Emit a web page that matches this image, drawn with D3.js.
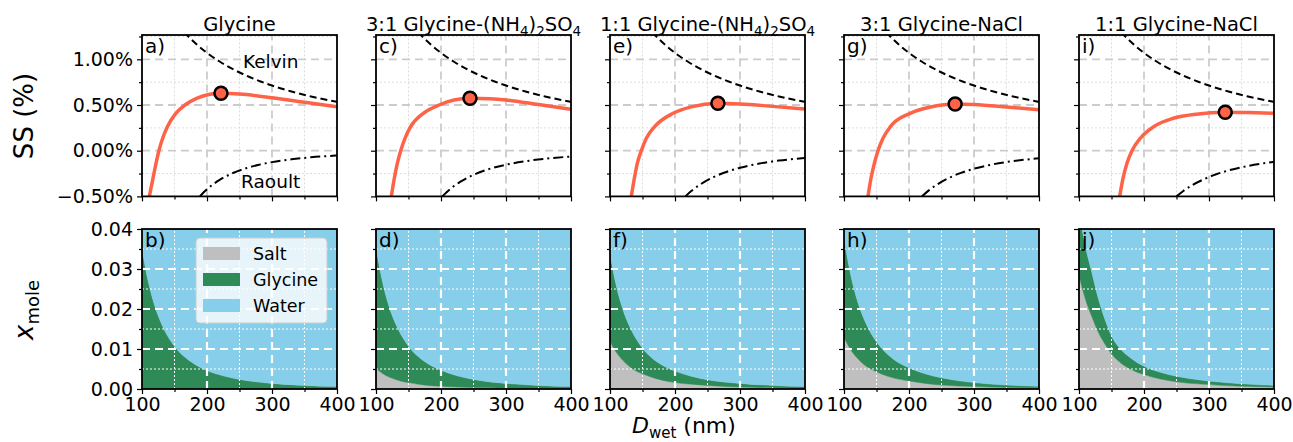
<!DOCTYPE html>
<html>
<head>
<meta charset="utf-8">
<script src="https://cdn.jsdelivr.net/npm/d3@7"></script>
<style>
  body { margin: 0; background: #fff; }
  text { font-family: "DejaVu Sans", sans-serif; fill: #000; }
</style>
</head>
<body>
<svg id="chart" width="1293" height="442"></svg>
<script>
// panel titles (subscripts marked with _) and panel letters
var titles = ["Glycine", "3:1 Glycine-(NH_4)_2SO_4", "1:1 Glycine-(NH_4)_2SO_4", "3:1 Glycine-NaCl", "1:1 Glycine-NaCl"];
var topLetters = ["a)", "c)", "e)", "g)", "i)"];
var botLetters = ["b)", "d)", "f)", "h)", "j)"];

// tick values
var xMajorTicks = [100, 200, 300, 400];
var xMinorTicks = [150, 250, 350];
var ssMajorTicks = [-0.5, 0, 0.5, 1.0];
var ssMinorTicks = [-0.25, 0.25, 0.75, 1.25];
var xmMajorTicks = [0, 0.01, 0.02, 0.03, 0.04];
var xmMinorTicks = [0.005, 0.015, 0.025, 0.035];

// Kohler curves (D in nm, SS in %)
var kohlerD = [
  [111.3, 116.4, 121.5, 126, 131.8, 139, 152, 166, 184, 204.6, 221.5, 250, 300, 350, 400],
  [123.6, 127.7, 132.8, 138, 144.6, 153.3, 172.8, 197, 220, 244.6, 275, 300, 350, 400],
  [132.8, 137, 142, 148.2, 155.9, 168.7, 197, 225, 266, 300, 350, 400],
  [136.9, 141, 146.7, 152.3, 160, 171.3, 202, 235, 271, 300, 350, 400],
  [162.6, 167.2, 173.8, 181.5, 194.3, 215, 245, 280, 325, 360, 400]
];
var kohlerSS = [
  [-0.50, -0.32, -0.14, 0, 0.136, 0.263, 0.409, 0.50, 0.573, 0.617, 0.628, 0.62, 0.58, 0.53, 0.48],
  [-0.50, -0.32, -0.138, 0, 0.136, 0.263, 0.409, 0.50, 0.555, 0.573, 0.568, 0.555, 0.505, 0.453],
  [-0.50, -0.32, -0.138, 0, 0.136, 0.263, 0.409, 0.48, 0.519, 0.512, 0.485, 0.455],
  [-0.50, -0.32, -0.138, 0, 0.136, 0.263, 0.409, 0.48, 0.511, 0.505, 0.478, 0.447],
  [-0.50, -0.32, -0.138, 0, 0.136, 0.263, 0.355, 0.40, 0.42, 0.417, 0.409]
];
var criticalD = [221.5, 244.6, 266, 271, 325];
var criticalSS = [0.628, 0.573, 0.519, 0.511, 0.42];

// Kelvin term (same for every panel)
var kelvinD = [165, 175, 185, 200, 220, 240, 260, 280, 300, 330, 360, 400];
var kelvinSS = [1.297, 1.223, 1.157, 1.07, 0.973, 0.892, 0.823, 0.764, 0.713, 0.648, 0.594, 0.535];

// Raoult term
var raoultD = [
  [189, 200, 220, 240, 260, 280, 300, 330, 360, 400],
  [202, 215, 230, 250, 270, 300, 330, 360, 400],
  [216, 225, 240, 260, 280, 300, 330, 360, 400],
  [220, 230, 245, 260, 280, 300, 330, 360, 400],
  [250, 260, 275, 290, 310, 330, 360, 400]
];
var raoultSS = [
  [-0.50, -0.422, -0.317, -0.244, -0.192, -0.154, -0.125, -0.094, -0.072, -0.053],
  [-0.50, -0.415, -0.339, -0.264, -0.209, -0.153, -0.115, -0.088, -0.064],
  [-0.50, -0.442, -0.365, -0.287, -0.23, -0.187, -0.14, -0.108, -0.079],
  [-0.50, -0.437, -0.362, -0.303, -0.242, -0.197, -0.148, -0.114, -0.083],
  [-0.50, -0.443, -0.374, -0.319, -0.261, -0.216, -0.167, -0.122]
];

// mole fractions of salt and glycine on a common diameter grid
var moleD = [100, 105, 110, 120, 130, 140, 150, 165, 180, 200, 225, 250, 300, 350, 400];
var saltX = [
  [0, 0, 0, 0, 0, 0, 0, 0, 0, 0, 0, 0, 0, 0, 0],
  [0.0052, 0.0045, 0.0039, 0.0030, 0.0024, 0.0019, 0.0016, 0.0012, 0.0009, 0.0007, 0.0005, 0.00035, 0.0002, 0.00013, 0.0001],
  [0.0120, 0.0104, 0.0091, 0.0071, 0.0056, 0.0045, 0.0038, 0.0029, 0.0022, 0.0016, 0.0012, 0.0009, 0.0005, 0.0003, 0.0002],
  [0.0129, 0.0113, 0.0099, 0.0078, 0.0062, 0.0051, 0.0043, 0.0033, 0.0026, 0.0020, 0.0014, 0.0010, 0.0006, 0.0004, 0.0003],
  [0.0285, 0.0252, 0.0224, 0.0180, 0.0141, 0.0112, 0.0088, 0.0064, 0.0049, 0.0036, 0.0025, 0.0018, 0.0011, 0.0007, 0.0005]
];
var glycineX = [
  [0.0352, 0.0305, 0.0266, 0.0206, 0.0163, 0.0131, 0.0107, 0.0081, 0.0063, 0.0046, 0.0033, 0.0024, 0.0014, 0.0009, 0.0006],
  [0.0303, 0.0263, 0.0229, 0.0177, 0.0140, 0.0113, 0.0091, 0.0069, 0.0054, 0.0040, 0.0028, 0.00205, 0.0012, 0.00077, 0.0005],
  [0.0219, 0.0190, 0.0165, 0.0127, 0.0101, 0.0081, 0.0064, 0.0048, 0.0038, 0.0029, 0.0020, 0.0014, 0.0009, 0.0006, 0.0004],
  [0.0251, 0.0217, 0.0189, 0.0146, 0.0116, 0.0093, 0.0075, 0.0057, 0.0044, 0.0033, 0.0024, 0.0018, 0.0010, 0.0006, 0.0004],
  [0.0155, 0.0145, 0.0132, 0.0110, 0.0084, 0.0062, 0.0045, 0.0034, 0.0028, 0.0021, 0.0017, 0.0014, 0.0009, 0.0006, 0.0004]
];

var legendNames = ["Salt", "Glycine", "Water"];
var legendKeys = ["salt", "glycine", "water"];
var colors = { salt: "#bfbfbf", glycine: "#2e8b57", water: "#87ceeb" };

var svg = d3.select("#chart");
var panelLeft = [142, 376, 610, 844, 1079], panelW = 195;
var ySS = d3.scaleLinear().domain([-0.5, 1.266]).range([196.4, 35]);
var yX = d3.scaleLinear().domain([0, 0.04]).range([389, 229]);
var tickFont = 19;

function addTitle(g, str, cx, y) {
  var t = g.append("text").attr("x", cx).attr("y", y).attr("text-anchor", "middle")
    .style("font-size", "19.5px");
  var shifted = false;
  str.split(/(_\d)/).forEach(function(part) {
    if (!part) return;
    if (part[0] == "_") {
      t.append("tspan").attr("dy", shifted ? 0 : 5).style("font-size", "13.5px").text(part[1]);
      shifted = true;
    } else {
      t.append("tspan").attr("dy", shifted ? -5 : 0).text(part);
      shifted = false;
    }
  });
}

function grid(g, x, y, xv, yv, color, width, dash) {
  g.selectAll(null).data(xv).enter().append("line")
    .attr("x1", d => x(d)).attr("x2", d => x(d))
    .attr("y1", y.range()[0]).attr("y2", y.range()[1])
    .attr("stroke", color).attr("stroke-width", width).attr("stroke-dasharray", dash);
  g.selectAll(null).data(yv.filter(v => v <= y.domain()[1])).enter().append("line")
    .attr("y1", d => y(d)).attr("y2", d => y(d))
    .attr("x1", x.range()[0]).attr("x2", x.range()[1])
    .attr("stroke", color).attr("stroke-width", width).attr("stroke-dasharray", dash);
}

function axes(g, x, y, showX, showY, yfmt, yMaj, yMin) {
  var bottom = y.range()[0], left = x.range()[0];
  var ax = g.append("g").attr("transform", "translate(0," + bottom + ")")
    .call(d3.axisBottom(x).tickValues(xMajorTicks).tickSize(5).tickSizeOuter(0).tickPadding(4)
      .tickFormat(showX ? d3.format("d") : ""));
  var axm = g.append("g").attr("transform", "translate(0," + bottom + ")")
    .call(d3.axisBottom(x).tickValues(xMinorTicks).tickSize(3).tickSizeOuter(0).tickFormat(""));
  var ay = g.append("g").attr("transform", "translate(" + left + ",0)")
    .call(d3.axisLeft(y).tickValues(yMaj).tickSize(5).tickSizeOuter(0).tickPadding(4)
      .tickFormat(showY ? yfmt : ""));
  var aym = g.append("g").attr("transform", "translate(" + left + ",0)")
    .call(d3.axisLeft(y).tickValues(yMin.filter(v => v <= y.domain()[1])).tickSize(3).tickSizeOuter(0).tickFormat(""));
  [ax, axm, ay, aym].forEach(function(a) {
    a.select(".domain").remove();
    a.selectAll("line").attr("stroke", "#000").attr("stroke-width", 1.2);
    a.selectAll("text").style("font-size", tickFont + "px").attr("font-family", "DejaVu Sans");
    if (a === axm || a === aym) a.selectAll("text").remove();
    if (!showX && a === ax) a.selectAll("text").remove();
    if (!showY && a === ay) a.selectAll("text").remove();
  });
  g.append("rect").attr("x", left).attr("y", y.range()[1])
    .attr("width", x.range()[1] - left).attr("height", bottom - y.range()[1])
    .attr("fill", "none").attr("stroke", "#000").attr("stroke-width", 1.8);
}

panelLeft.forEach(function(left, i) {
  var x = d3.scaleLinear().domain([100, 400]).range([left, left + panelW]);

  // ---- top: Kohler curve ----
  var gt = svg.append("g");
  gt.append("clipPath").attr("id", "ct" + i).append("rect")
    .attr("x", left).attr("y", 35).attr("width", panelW).attr("height", 161.4);
  grid(gt, x, ySS, xMinorTicks, ssMinorTicks, "#dddddd", 1, "2,2");
  grid(gt, x, ySS, [200, 300], [0, 0.5, 1.0], "#cccccc", 1.8, "8,5");

  var line = d3.line().x(d => x(d[0])).y(d => ySS(d[1])).curve(d3.curveMonotoneX);
  var plot = gt.append("g").attr("clip-path", "url(#ct" + i + ")");
  plot.append("path").datum(d3.zip(kelvinD, kelvinSS)).attr("d", line)
    .attr("fill", "none").attr("stroke", "#000").attr("stroke-width", 2).attr("stroke-dasharray", "7,4");
  plot.append("path").datum(d3.zip(raoultD[i], raoultSS[i])).attr("d", line)
    .attr("fill", "none").attr("stroke", "#000").attr("stroke-width", 2).attr("stroke-dasharray", "10,4,2,4");
  plot.append("path").datum(d3.zip(kohlerD[i], kohlerSS[i])).attr("d", line)
    .attr("fill", "none").attr("stroke", "#ff6347").attr("stroke-width", 3.5);
  gt.append("circle").attr("cx", x(criticalD[i])).attr("cy", ySS(criticalSS[i])).attr("r", 6.5)
    .attr("fill", "#ff6347").attr("stroke", "#000").attr("stroke-width", 2.5);

  axes(gt, x, ySS, false, i == 0, d => d3.format(".2f")(d) + "%", ssMajorTicks, ssMinorTicks);
  gt.append("text").attr("x", left + 3).attr("y", 52.5).style("font-size", "20px").text(topLetters[i]);
  addTitle(gt, titles[i], left + panelW / 2, 31);

  if (i == 0) {
    gt.append("text").attr("x", x(298)).attr("y", 68).attr("text-anchor", "middle")
      .style("font-size", "18.5px").text("Kelvin");
    gt.append("text").attr("x", x(298)).attr("y", 188).attr("text-anchor", "middle")
      .style("font-size", "18.5px").text("Raoult");
  }

  // ---- bottom: mole fraction stack ----
  var gb = svg.append("g");
  gb.append("clipPath").attr("id", "cb" + i).append("rect")
    .attr("x", left).attr("y", 229).attr("width", panelW).attr("height", 160);
  var rows = moleD.map(function(D, k) {
    return { D: D, salt: saltX[i][k], glycine: glycineX[i][k], water: 1 - saltX[i][k] - glycineX[i][k] };
  });
  var series = d3.stack().keys(legendKeys)(rows);
  var area = d3.area().x(d => x(d.data.D)).y0(d => yX(d[0])).y1(d => yX(d[1])).curve(d3.curveMonotoneX);
  gb.append("g").attr("clip-path", "url(#cb" + i + ")").selectAll("path").data(series).enter()
    .append("path").attr("d", area).attr("fill", d => colors[d.key]).attr("stroke", d => colors[d.key]).attr("stroke-width", 0.5);
  grid(gb, x, yX, xMinorTicks, xmMinorTicks, "#ffffff", 1, "2,2");
  grid(gb, x, yX, [200, 300], [0.01, 0.02, 0.03], "#ffffff", 2.2, "8,5");
  axes(gb, x, yX, true, i == 0, d3.format(".2f"), xmMajorTicks, xmMinorTicks);
  gb.append("text").attr("x", left + 3).attr("y", 247).style("font-size", "20px").text(botLetters[i]);
});

// legend in panel b
var lg = svg.append("g");
lg.append("rect").attr("x", 196).attr("y", 238).attr("width", 131).attr("height", 85).attr("rx", 4)
  .attr("fill", "#ffffff").attr("fill-opacity", 0.8).attr("stroke", "#cccccc");
legendNames.forEach(function(name, k) {
  var y0 = 247 + k * 26;
  lg.append("rect").attr("x", 203).attr("y", y0).attr("width", 37).attr("height", 13)
    .attr("fill", colors[legendKeys[k]]);
  lg.append("text").attr("x", 253).attr("y", y0 + 12.5).style("font-size", "17.5px").text(name);
});

// axis labels
svg.append("text").attr("transform", "translate(33,116) rotate(-90)").attr("text-anchor", "middle")
  .style("font-size", "26px").text("SS (%)");
var xm = svg.append("text").attr("transform", "translate(33,310) rotate(-90)").attr("text-anchor", "middle")
  .style("font-size", "26px");
xm.append("tspan").style("font-style", "italic").text("x");
xm.append("tspan").attr("dy", 6).style("font-size", "18px").text("mole");
var xl = svg.append("text").attr("x", 632).attr("y", 433).style("font-size", "22px");
xl.append("tspan").style("font-style", "italic").text("D");
xl.append("tspan").attr("dy", 5).style("font-size", "15px").text("wet");
xl.append("tspan").attr("dy", -5).text(" (nm)");
</script>
</body>
</html>
